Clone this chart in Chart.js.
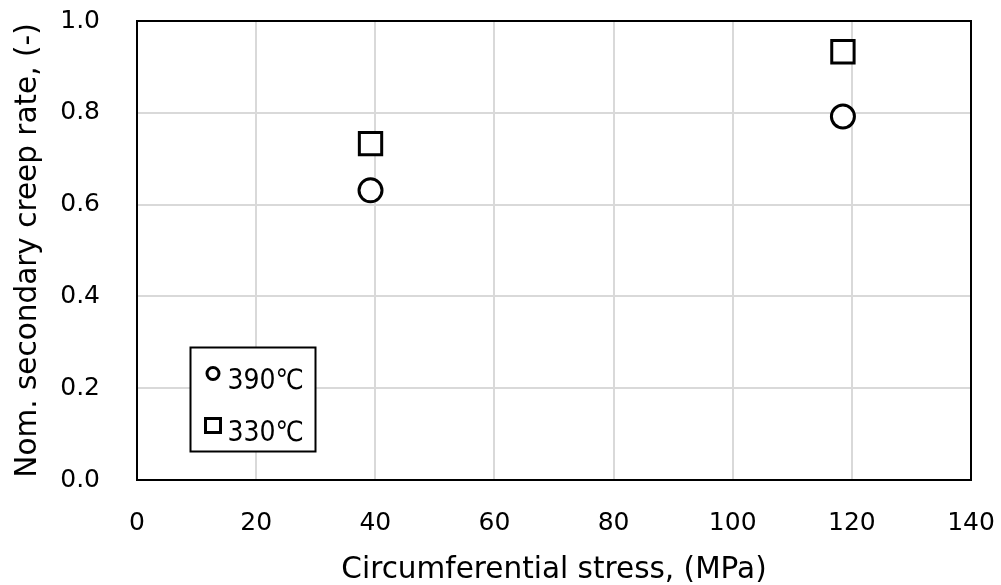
<!DOCTYPE html>
<html><head><meta charset="utf-8">
<script src="https://cdn.jsdelivr.net/npm/chart.js@4"></script>
<style>html,body{margin:0;padding:0;background:#fff}#wrap{width:1001px;height:585px}</style>
</head><body><div id="wrap"><canvas id="c" width="1001" height="585"></canvas></div>
<script>
const xTitle = 'Circumferential stress, (MPa)';
const yTitle = 'Nom. secondary creep rate, (-)';
const seriesNames = ['390℃', '330℃'];
const stress390 = [39.2, 118.5];
const rate390 = [0.631, 0.792];
const stress330 = [39.2, 118.5];
const rate330 = [0.733, 0.933];
const xTicks = [0, 20, 40, 60, 80, 100, 120, 140];
const yTicks = [0.0, 0.2, 0.4, 0.6, 0.8, 1.0];

const FONT = "'DejaVu Sans', Verdana, sans-serif";
const LEGEND_FONT = "'DejaVu Sans Condensed', 'DejaVu Sans', sans-serif";

const frameAndLegend = {
  id: 'frameAndLegend',
  afterDraw(chart) {
    const ctx = chart.ctx, a = chart.chartArea;
    ctx.save();
    ctx.strokeStyle = '#000';
    ctx.lineWidth = 2;
    ctx.strokeRect(a.left, a.top, a.right - a.left, a.bottom - a.top);
    // legend box
    const bx = a.left + 53.5, by = a.top + 326.5, bw = 125, bh = 104;
    ctx.fillStyle = '#fff';
    ctx.fillRect(bx, by, bw, bh);
    ctx.lineWidth = 2;
    ctx.strokeRect(bx, by, bw, bh);
    ctx.font = '28px ' + LEGEND_FONT;
    ctx.fillStyle = '#000';
    ctx.textBaseline = 'alphabetic';
    ctx.textAlign = 'left';
    ctx.lineWidth = 3;
    ctx.beginPath();
    ctx.arc(bx + 22.5, by + 26, 6, 0, Math.PI * 2);
    ctx.stroke();
    ctx.fillText(seriesNames[0], bx + 37, by + 41.5);
    ctx.strokeRect(bx + 15, by + 71, 15, 14);
    ctx.fillText(seriesNames[1], bx + 37, by + 93.5);
    ctx.restore();
  }
};

function noPad(s) { s.paddingTop = 0; s.paddingBottom = 0; s.paddingLeft = 0; s.paddingRight = 0; }

new Chart(document.getElementById('c'), {
  type: 'scatter',
  data: {
    datasets: [
      {
        label: seriesNames[0],
        data: stress390.map((x, i) => ({x, y: rate390[i]})),
        pointStyle: 'circle',
        pointRadius: 11.5,
        pointHoverRadius: 11.5,
        pointBorderWidth: 3,
        pointHoverBorderWidth: 3,
        borderColor: '#000',
        backgroundColor: '#fff',
        showLine: false
      },
      {
        label: seriesNames[1],
        data: stress330.map((x, i) => ({x, y: rate330[i]})),
        pointStyle: 'rect',
        pointRadius: 15.8,
        pointHoverRadius: 15.8,
        pointBorderWidth: 3,
        pointHoverBorderWidth: 3,
        borderColor: '#000',
        backgroundColor: '#fff',
        showLine: false
      }
    ]
  },
  options: {
    responsive: false,
    devicePixelRatio: 1,
    animation: false,
    layout: {padding: {top: 21, right: 30, left: 0, bottom: 0}},
    plugins: {legend: {display: false}, tooltip: {enabled: false}},
    scales: {
      x: {
        type: 'linear',
        min: xTicks[0], max: xTicks[xTicks.length - 1],
        afterBuildTicks: s => { s.ticks = xTicks.map(v => ({value: v})); },
        afterFit: s => { s.height = 105; noPad(s); },
        ticks: {font: {family: FONT, size: 25}, color: '#000', padding: 28, maxRotation: 0,
                callback: v => String(v)},
        grid: {color: '#d9d9d9', lineWidth: 2, drawTicks: false},
        border: {display: false},
        title: {display: true, text: xTitle, color: '#000', font: {family: FONT, size: 29.5}, padding: {top: 0, bottom: -3}}
      },
      y: {
        type: 'linear',
        min: yTicks[0], max: yTicks[yTicks.length - 1],
        afterBuildTicks: s => { s.ticks = yTicks.map(v => ({value: v})); },
        afterFit: s => { s.width = 137; noPad(s); },
        ticks: {font: {family: FONT, size: 25}, color: '#000', padding: 37,
                callback: v => Number(v).toFixed(1)},
        grid: {color: '#d9d9d9', lineWidth: 2, drawTicks: false},
        border: {display: false},
        title: {display: true, text: yTitle, color: '#000', font: {family: FONT, size: 29.5}, padding: {top: 11, bottom: 0}}
      }
    }
  },
  plugins: [frameAndLegend]
});
</script>
</body></html>
